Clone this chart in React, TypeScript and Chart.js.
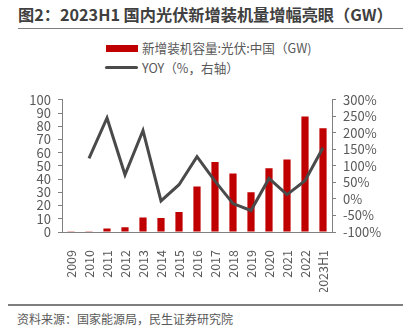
import React, { useEffect, useRef } from "react";
import { Chart, registerables } from "chart.js";

Chart.register(...registerables);

const categories = ["2009", "2010", "2011", "2012", "2013", "2014", "2015", "2016", "2017", "2018", "2019", "2020", "2021", "2022", "2023H1"];
const capacity = [0.16, 0.5, 2.7, 3.6, 11.0, 10.6, 15.1, 34.5, 53.0, 44.3, 30.1, 48.2, 54.9, 87.4, 78.4];
const yoy = [null, 123, 245, 73, 207, -6, 43, 128, 54, -14, -35, 62, 13, 55, 155];
const leftTicks = { min: 0, max: 100, step: 10 };
const rightTicks = { min: -100, max: 300, step: 50 };

const FONT = "'Noto Sans CJK SC', 'Noto Sans', sans-serif";
const AXIS = "#808080";
const TXT = "#595959";

export default function App() {
  const ref = useRef<HTMLCanvasElement>(null);
  useEffect(() => {
    if (!ref.current) return;
    const chart = new Chart(ref.current, {
      data: {
        labels: categories,
        datasets: [
          {
            type: "line",
            label: "YOY（%，右轴）",
            data: yoy,
            yAxisID: "y1",
            borderColor: "#4a4a4a",
            borderWidth: 3,
            pointRadius: 0,
            tension: 0,
            order: 0,
          },
          {
            type: "bar",
            label: "新增装机容量:光伏:中国（GW)",
            data: capacity,
            yAxisID: "y",
            backgroundColor: "#C00000",
            barPercentage: 0.4,
            categoryPercentage: 1,
            order: 1,
          },
        ],
      } as any,
      options: {
        animation: false,
        responsive: false,
        maintainAspectRatio: false,
        layout: { padding: { top: 13, left: 0, right: 0, bottom: 0 } },
        plugins: { legend: { display: false }, tooltip: { enabled: false } },
        scales: {
          x: {
            offset: true,
            grid: { display: false },
            border: { display: true, color: AXIS, width: 1 },
            ticks: {
              color: TXT,
              font: { family: FONT, size: 12.5 },
              maxRotation: 90,
              minRotation: 90,
              autoSkip: false,
              padding: 10,
            },
            afterFit: (s: any) => { s.height = 60; },
          },
          y: {
            position: "left",
            min: leftTicks.min,
            max: leftTicks.max,
            grid: { drawOnChartArea: false, drawTicks: true, tickLength: 4, color: AXIS },
            border: { display: true, color: AXIS, width: 1 },
            ticks: {
              stepSize: leftTicks.step,
              autoSkip: false,
              color: TXT,
              font: { family: FONT, size: 13 },
              padding: 7,
            },
            afterFit: (s: any) => { s.width = 62; },
          },
          y1: {
            position: "right",
            min: rightTicks.min,
            max: rightTicks.max,
            grid: { drawOnChartArea: false, drawTicks: true, tickLength: 4, color: AXIS },
            border: { display: true, color: AXIS, width: 1 },
            ticks: {
              stepSize: rightTicks.step,
              autoSkip: false,
              color: TXT,
              font: { family: FONT, size: 13 },
              padding: 7,
              callback: (v: any) => v + "%",
            },
            afterFit: (s: any) => { s.width = 71; },
          },
        },
      },
    });
    return () => chart.destroy();
  }, []);

  return (
    <div style={{ position: "fixed", left: 0, top: 0, width: 403, height: 332, background: "#fff", overflow: "hidden", fontFamily: FONT }}>
      <div style={{ position: "absolute", left: 18, top: 4, fontSize: 16.2, fontWeight: 700, color: "#404040", whiteSpace: "nowrap", lineHeight: "20px" }}>
        图2：2023H1 国内光伏新增装机量增幅亮眼（GW）
      </div>
      <div style={{ position: "absolute", left: 18, top: 28, width: 385, height: 1, background: "#7f7f7f" }} />
      <div style={{ position: "absolute", left: 106, top: 45, width: 32, height: 7, background: "#C00000" }} />
      <div style={{ position: "absolute", left: 142, top: 40, fontSize: 12.6, color: TXT, whiteSpace: "nowrap", lineHeight: "16px" }}>
        新增装机容量:光伏:中国（GW)
      </div>
      <div style={{ position: "absolute", left: 105, top: 66, width: 33, height: 3, background: "#4a4a4a", borderRadius: 1.5 }} />
      <div style={{ position: "absolute", left: 142, top: 60, fontSize: 12.6, color: TXT, whiteSpace: "nowrap", lineHeight: "16px" }}>
        YOY（%，右轴）
      </div>
      <canvas ref={ref} width={403} height={207} style={{ position: "absolute", left: 0, top: 85, width: 403, height: 207 }} />
      <div style={{ position: "absolute", left: 8, top: 304, width: 395, height: 2, background: "#7f7f7f" }} />
      <div style={{ position: "absolute", left: 17, top: 311, fontSize: 12, color: TXT, whiteSpace: "nowrap", lineHeight: "15px" }}>
        资料来源：国家能源局，民生证券研究院
      </div>
    </div>
  );
}
